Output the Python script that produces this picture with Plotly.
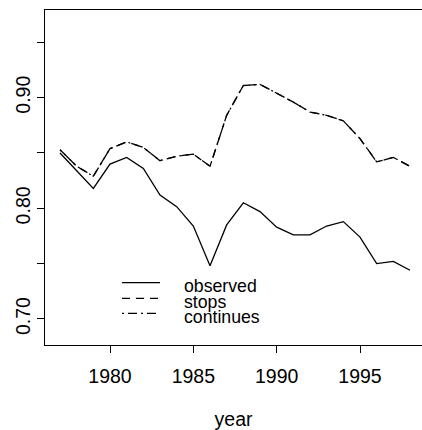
import plotly.graph_objects as go

years = list(range(1977, 1999))
observed = [0.850, 0.834, 0.818, 0.840, 0.846, 0.836, 0.812, 0.8015, 0.784, 0.748, 0.785,
            0.805, 0.797, 0.783, 0.776, 0.776, 0.784, 0.788, 0.774, 0.750, 0.752, 0.744]
stops = [0.853, 0.838, 0.829, 0.854, 0.860, 0.855, 0.843, 0.847, 0.849, 0.838, 0.884,
         0.911, 0.912, 0.904, 0.896, 0.887, 0.884, 0.879, 0.863, 0.842, 0.846, 0.838]
continues = list(stops)

series_names = ["observed", "stops", "continues"]
x_ticks = [1980, 1985, 1990, 1995]
y_ticks = [0.70, 0.75, 0.80, 0.85, 0.90, 0.95]
y_ticktext = ["0.70", "", "0.80", "", "0.90", ""]

FONT = "Liberation Sans, Arial, Helvetica, sans-serif"
dashes = ["solid", "8px,6px", "2px,4px,9px,4px"]

W = 422
px_left = 45
def px(v):
    # pixel column -> paper fraction of the plot area
    return (v - px_left) / (W - px_left)

fig = go.Figure()
for name, vals, d in zip(series_names, [observed, stops, continues], dashes):
    fig.add_trace(go.Scatter(x=years, y=vals, mode="lines", name=name,
                             line=dict(color="black", width=1.3, dash=d)))

# legend drawn by hand, like R's legend() box-less key
rows = [0.186, 0.1394, 0.0946]
for name, d, ry in zip(series_names, dashes, rows):
    fig.add_shape(type="line", xref="paper", yref="paper", x0=px(122), x1=px(160),
                  y0=ry, y1=ry, line=dict(color="black", width=1.3, dash=d))
    fig.add_annotation(xref="paper", yref="paper", x=px(182), y=ry - 0.011,
                       text=name, showarrow=False, xanchor="left", yanchor="middle",
                       font=dict(size=17.7, color="black", family=FONT))

fig.update_layout(
    width=W, height=430,
    margin=dict(l=45, r=0, t=10, b=85),
    paper_bgcolor="white", plot_bgcolor="white",
    showlegend=False,
    font=dict(family=FONT, size=19.5, color="black"),
)
fig.update_xaxes(range=[1976.1, 1976.1 + (W - px_left) / 16.667], tickvals=x_ticks,
                 ticks="outside", ticklen=7,
                 tickcolor="black", tickwidth=1.2, showline=True, linecolor="black",
                 linewidth=1.2, mirror=True, showgrid=False, zeroline=False,
                 ticklabelstandoff=6,
                 title=dict(text="year", standoff=28, font=dict(size=19.5)))
fig.update_yaxes(range=[0.6765, 0.9792], tickvals=y_ticks, ticktext=y_ticktext,
                 ticks="outside", ticklen=7, tickcolor="black", tickwidth=1.2,
                 showline=True, linecolor="black", linewidth=1.2, mirror=False,
                 showgrid=False, zeroline=False, tickangle=-90, ticklabelstandoff=-1)

# drop the default 8px page margin so the figure fills the window without scrollbars
fig.write_html("out.html", config={"displayModeBar": False},
               post_script="document.body.style.margin='0';"
                           "document.body.style.overflow='hidden';")
